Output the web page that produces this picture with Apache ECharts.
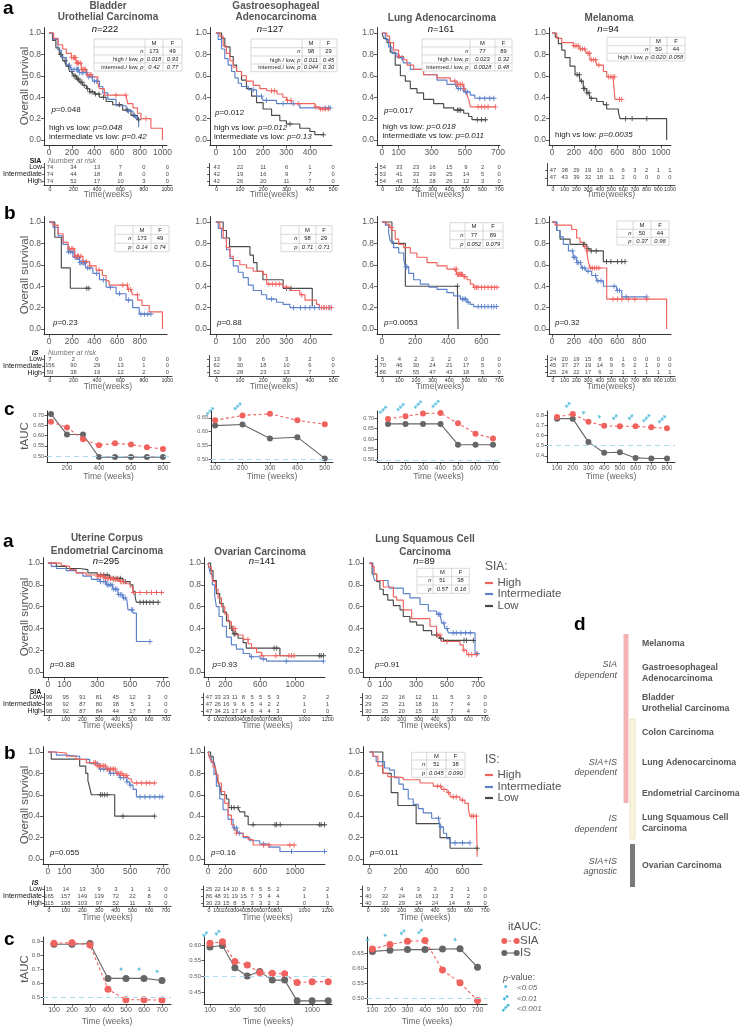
<!DOCTYPE html>
<html>
<head>
<meta charset="utf-8">
<title>SIA / IS survival</title>
<script src="https://cdn.jsdelivr.net/npm/echarts@6.0.0/dist/echarts.min.js"></script>
<style>html,body{margin:0;padding:0;background:#fff;}#chart{width:743px;height:1027px;}</style>
</head>
<body>
<div id="chart"></div>
<script>
/* ================= DATA ================= */
/* Kaplan-Meier curves: [time(weeks), survival after drop]; censor times separately */
// --- top, panel a (SIA) ---
const blcaSiaHigh=[[40,0.95],[79,0.89],[120,0.85],[152,0.81],[196,0.77],[240,0.72],[284,0.66],[333,0.61],[380,0.59],[430,0.53],[444,0.48],[488,0.42],[693,0.34],[740,0.3],[780,0.25],[810,0.2],[898,0.11],[1000,0]];
const blcaSiaHighC=[200,215,225,235,245,250,260,275,290,300,310,320,340,360,370,590,678,854];
const blcaSiaInt=[[35,0.94],[79,0.84],[108,0.77],[152,0.7],[196,0.66],[269,0.63],[342,0.59],[386,0.55],[444,0.5],[474,0.44],[518,0.38],[591,0.32],[680,0.27],[740,0.22],[770,0.2],[790,0.12]];
const blcaSiaIntC=[180,200,220,240,250,260,270,290,300,330,350,380,400,420,700,760];
const blcaSiaLow=[[30,0.93],[60,0.86],[90,0.8],[120,0.74],[150,0.69],[181,0.64],[215,0.6],[240,0.57],[270,0.54],[298,0.51],[330,0.48],[357,0.45],[400,0.43],[444,0.4],[503,0.36],[561,0.33],[649,0.28],[722,0.23],[780,0.19]];
const blcaSiaLowC=[100,140,170,200,220,230,250,260,280,290,310,340,360,380,410,440,480,620,690,750,790];

const stadSiaHigh=[[17,0.97],[31,0.88],[45,0.81],[60,0.74],[74,0.68],[88,0.64],[109,0.6],[130,0.55],[159,0.51],[187,0.48],[216,0.46],[260,0.43],[285,0.4],[300,0.37],[322,0.34],[421,0.31],[440,0.29]];
const stadSiaHighC=[237,250,305,320,350,425,445,455,465,478];
const stadSiaInt=[[10,0.94],[24,0.85],[38,0.76],[52,0.7],[67,0.64],[81,0.58],[95,0.53],[109,0.5],[138,0.47],[173,0.41],[201,0.37],[258,0.34],[357,0.3]];
const stadSiaIntC=[159,194,215,286,329,465,480,486];
const stadSiaLow=[[24,0.95],[38,0.87],[60,0.78],[74,0.7],[88,0.64],[109,0.56],[130,0.48],[152,0.41],[173,0.35],[201,0.29],[237,0.23],[272,0.18],[300,0.15],[357,0.11],[400,0.08],[421,0.05]];
const stadSiaLowC=[315,457];

const luadSiaHigh=[[30,0.97],[46,0.91],[70,0.84],[100,0.78],[131,0.75],[151,0.7],[191,0.66],[251,0.61],[332,0.58],[412,0.55],[453,0.52],[493,0.48],[505,0.45],[513,0.42],[523,0.38],[533,0.31]];
const luadSiaHighC=[105,440,455,465,475,485,495,580,600,620,640,684];
const luadSiaInt=[[20,0.94],[40,0.87],[60,0.81],[91,0.77],[131,0.72],[171,0.66],[251,0.61],[332,0.56],[392,0.52],[453,0.48],[493,0.45],[533,0.42],[560,0.39]];
const luadSiaIntC=[120,445,460,475,490,505,515,590,620,650,675];
const luadSiaLow=[[10,0.95],[30,0.91],[50,0.82],[80,0.7],[111,0.6],[141,0.55],[171,0.48],[211,0.44],[251,0.38],[312,0.34],[372,0.3],[433,0.28],[493,0.25],[523,0.22],[543,0.19]];
const luadSiaLowC=[455,465,475,575,600,624];

const skcmSiaHigh=[[43,0.95],[89,0.91],[196,0.88],[257,0.85],[318,0.81],[349,0.75],[410,0.7],[471,0.64],[502,0.59],[578,0.38]];
const skcmSiaHighC=[200,220,240,260,280,300,330,345,360,380,400,430,520,540,560,575,620,640];
const skcmSiaLow=[[30,0.96],[58,0.9],[89,0.84],[119,0.77],[165,0.69],[211,0.61],[257,0.55],[287,0.48],[318,0.44],[349,0.39],[410,0.36],[471,0.33],[502,0.29],[609,0.26],[624,0.2],[1052,0]];
const skcmSiaLowC=[230,250,270,290,300,320,340,360,500,675,735,870];

// --- top, panel b (IS) ---
const blcaIsHigh=[[35,0.97],[79,0.89],[123,0.81],[167,0.75],[225,0.68],[298,0.63],[357,0.59],[415,0.55],[470,0.5],[503,0.45],[530,0.41],[693,0.37],[737,0.32],[781,0.27],[820,0.22],[883,0.16],[1000,0]];
const blcaIsHighC=[180,200,210,230,250,260,280,300,330,360,440,650,690,700,720,780];
const blcaIsInt=[[35,0.95],[79,0.87],[123,0.79],[167,0.72],[211,0.67],[269,0.62],[327,0.57],[386,0.52],[444,0.46],[503,0.39],[591,0.33],[678,0.27],[737,0.2],[795,0.14]];
const blcaIsIntC=[170,190,210,230,240,250,260,270,280,290,300,310,320,340,360,420,480,540,620,700,810,840,870,898];
const blcaIsLow=[[50,0.857],[108,0.571],[187,0.381]];
const blcaIsLowC=[333,350];

const stadIsHigh=[[17,0.94],[31,0.85],[45,0.76],[60,0.68],[74,0.64],[102,0.6],[130,0.57],[159,0.54],[201,0.51],[216,0.42],[286,0.39],[315,0.36],[357,0.32],[379,0.27],[428,0.23],[440,0.2]];
const stadIsHighC=[225,240,255,270,300,365,450,460,470,480,492];
const stadIsInt=[[10,0.94],[24,0.85],[45,0.74],[60,0.66],[74,0.59],[95,0.53],[116,0.48],[138,0.41],[159,0.36],[194,0.32],[216,0.28],[258,0.25],[286,0.23],[315,0.2]];
const stadIsIntC=[237,330,360,380,400,420,440,460,485];
const stadIsLow=[[31,0.92],[45,0.85],[58,0.77],[145,0.69],[160,0.62],[175,0.54],[200,0.46],[286,0.38],[410,0.21]];
const stadIsLowC=[300,320];

const luadIsHigh=[[25,0.98],[45,0.95],[60,0.92],[80,0.84],[101,0.79],[131,0.76],[171,0.71],[211,0.67],[272,0.62],[332,0.59],[392,0.56],[453,0.51],[490,0.49],[513,0.46],[533,0.42],[553,0.39]];
const luadIsHighC=[55,440,450,455,460,465,470,475,480,485,495,500,560,570,580,600,620,640,660,680,694];
const luadIsInt=[[20,0.97],[40,0.9],[50,0.82],[70,0.76],[101,0.71],[131,0.65],[141,0.58],[161,0.52],[191,0.46],[231,0.42],[282,0.39],[332,0.37],[392,0.34],[433,0.31],[473,0.28],[513,0.25],[533,0.23],[553,0.21]];
const luadIsIntC=[145,150,485,495,505,520,580,600,620,640,660,675,690];
const luadIsLow=[[60,0.8],[141,0.4],[459,0]];
const luadIsLowC=[455];

const skcmIsHigh=[[28,0.97],[180,0.93],[226,0.85],[257,0.81],[287,0.77],[318,0.73],[333,0.63],[349,0.57],[502,0.28],[1052,0]];
const skcmIsHighC=[300,325,355,370,390,410,430,560,600,640,700,760,870];
const skcmIsInt=[[43,0.92],[73,0.86],[104,0.79],[150,0.73],[196,0.67],[226,0.62],[272,0.57],[318,0.54],[364,0.5],[410,0.45],[471,0.4],[593,0.36],[640,0.3]];
const skcmIsIntC=[190,200,210,230,240,260,280,300,330,400,420,450,570,600,620,680,870];
const skcmIsLow=[[43,0.92],[73,0.84],[165,0.79],[318,0.75],[349,0.73],[471,0.63]];
const skcmIsLowC=[290,300,330,360,405,500,540,600,640,670];

// --- bottom, panel a (SIA) ---
const ucecSiaHigh=[[81,0.98],[91,0.97],[132,0.94],[172,0.91],[233,0.89],[300,0.88],[350,0.86],[400,0.85],[440,0.83],[477,0.81],[500,0.78],[517,0.73]];
const ucecSiaHighC=[300,310,320,330,340,350,360,370,380,390,400,410,420,430,440,450,460,520,560,600,630,660,690];
const ucecSiaInt=[[20,0.97],[51,0.95],[112,0.93],[172,0.91],[213,0.88],[264,0.85],[314,0.83],[355,0.8],[396,0.76],[426,0.71],[456,0.68],[480,0.66],[487,0.57],[520,0.54],[538,0.28]];
const ucecSiaIntC=[300,320,340,350,360,370,380,390,400,410,420,430,440,450,460,470,510,515,620];
const ucecSiaLow=[[51,0.97],[112,0.95],[193,0.94],[243,0.91],[300,0.89],[375,0.86],[456,0.83],[500,0.8],[517,0.74],[530,0.69],[538,0.64]];
const ucecSiaLowC=[320,340,360,380,400,420,440,460,470,560,580,600,620,640,670];

const ovSiaHigh=[[15,0.96],[38,0.91],[58,0.83],[88,0.76],[115,0.68],[154,0.6],[192,0.53],[231,0.46],[269,0.4],[327,0.34],[404,0.3],[462,0.26],[500,0.22],[558,0.18],[615,0.15]];
const ovSiaHighC=[290,310,460,620,780,930,960,990];
const ovSiaInt=[[15,0.94],[27,0.9],[50,0.8],[77,0.7],[96,0.6],[127,0.51],[165,0.42],[212,0.32],[269,0.25],[327,0.21],[404,0.17],[480,0.14],[600,0.12],[673,0.1]];
const ovSiaIntC=[500,640,900,1327];
const ovSiaLow=[[31,0.93],[58,0.84],[96,0.72],[135,0.63],[173,0.55],[212,0.47],[250,0.4],[288,0.35],[346,0.31],[404,0.27],[440,0.22],[827,0.15]];
const ovSiaLowC=[270,285,300,310,760,790,1280,1300,1327];

const luscSiaHigh=[[15,0.97],[30,0.9],[46,0.84],[89,0.78],[154,0.69],[175,0.66],[218,0.57],[272,0.49],[390,0.42],[433,0.34],[466,0.28],[584,0.25],[605,0.2],[627,0.16]];
const luscSiaHighC=[440,455,500,610,640,660,690];
const luscSiaInt=[[22,0.9],[32,0.84],[120,0.8],[129,0.77],[218,0.72],[261,0.68],[326,0.62],[380,0.56],[433,0.53],[466,0.45],[487,0.4],[509,0.36],[681,0.17]];
const luscSiaIntC=[445,455,480,500,540,560,590,620,650,695];
const luscSiaLow=[[17,0.9],[46,0.83],[67,0.76],[89,0.71],[118,0.66],[154,0.61],[197,0.57],[218,0.51],[261,0.46],[304,0.43],[347,0.38],[401,0.34],[450,0.31],[477,0.29]];
const luscSiaLowC=[433,460,610,625,670];

// --- bottom, panel b (IS) ---
const ucecIsHigh=[[41,0.99],[112,0.96],[172,0.93],[233,0.9],[294,0.87],[355,0.84],[416,0.8],[460,0.78],[490,0.75],[507,0.73],[517,0.71]];
const ucecIsHighC=[280,290,300,310,320,330,340,350,360,370,380,390,400,410,420,430,440,450,460,470,480,540,570,600,620,649];
const ucecIsInt=[[51,0.97],[112,0.96],[193,0.93],[254,0.89],[314,0.84],[375,0.8],[436,0.76],[480,0.72],[497,0.69],[517,0.65],[538,0.58]];
const ucecIsIntC=[300,320,340,360,380,400,420,440,460,480,500,560,590,620,650,680,695];
const ucecIsLow=[[20,0.933],[193,0.867],[230,0.8],[243,0.733],[254,0.667],[264,0.6],[406,0.4]];
const ucecIsLowC=[320,330,345,360,456,649];

const ovIsHigh=[[15,0.96],[35,0.91],[58,0.86],[88,0.79],[115,0.71],[154,0.63],[192,0.52],[231,0.41],[269,0.32],[300,0.27],[327,0.24],[404,0.21],[462,0.18],[519,0.13]];
const ovIsHighC=[330,640,700,940,990];
const ovIsInt=[[15,0.95],[38,0.9],[69,0.79],[96,0.68],[135,0.56],[173,0.46],[231,0.37],[288,0.29],[346,0.24],[404,0.2],[481,0.17],[596,0.14],[700,0.11],[827,0.07]];
const ovIsIntC=[300,330,360,640,960,1340];
const ovIsLow=[[30,0.96],[60,0.92],[77,0.88],[96,0.8],[115,0.72],[135,0.68],[154,0.6],[212,0.56],[240,0.48],[365,0.44],[423,0.4],[462,0.32]];
const ovIsLowC=[270,300,346,519,770,790,830,1280,1300,1340];

const luscIsHigh=[[22,0.96],[54,0.87],[86,0.8],[118,0.77],[150,0.76],[218,0.74],[326,0.71],[412,0.68],[466,0.65],[500,0.62],[520,0.58],[584,0.55],[616,0.52],[638,0.47],[648,0.4],[695,0.02]];
const luscIsHighC=[440,460,480,510,540,560,600,660,670,690];
const luscIsInt=[[22,0.96],[43,0.91],[97,0.85],[129,0.83],[161,0.76],[190,0.7],[218,0.65],[250,0.56],[282,0.51],[315,0.47],[347,0.43],[401,0.38],[455,0.3],[477,0.24],[498,0.19],[520,0.15]];
const luscIsIntC=[445,460,552,600,648];
const luscIsLow=[[86,0.8],[140,0.62],[183,0.5],[301,0.33],[455,0.2],[520,0.1]];
const luscIsLowC=[695];

/* Number at risk */
const timesBlca=[0,200,400,600,800,1000];
const timesStad=[0,100,200,300,400,500];
const timesLuad=[0,100,200,300,400,500,600,700];
const timesSkcm=[0,100,200,300,400,500,600,700,800,900,1000];
const timesUcec=[0,100,200,300,400,500,600,700];
const timesOv=[0,100,200,300,400,500,600,700,800,1000,1200];
const timesLusc=[0,100,200,300,400,500,600,700];

const riskBlcaSiaLow=[74,34,13,7,0,0], riskBlcaSiaInt=[74,44,18,8,0,0], riskBlcaSiaHigh=[74,52,17,10,3,0];
const riskStadSiaLow=[43,22,11,6,1,0], riskStadSiaInt=[42,19,16,9,7,0], riskStadSiaHigh=[42,26,20,11,7,0];
const riskLuadSiaLow=[54,33,23,16,15,9,2,0], riskLuadSiaInt=[53,41,33,29,25,14,5,0], riskLuadSiaHigh=[54,43,31,28,26,12,3,0];
const riskSkcmSiaLow=[47,38,29,19,10,6,6,3,2,1,1], riskSkcmSiaHigh=[47,43,39,32,18,11,2,0,0,0,0];
const riskBlcaIsLow=[7,2,0,0,0,0], riskBlcaIsInt=[156,90,29,13,1,0], riskBlcaIsHigh=[59,38,19,12,2,0];
const riskStadIsLow=[13,9,6,3,2,0], riskStadIsInt=[62,30,18,10,6,0], riskStadIsHigh=[52,28,23,13,7,0];
const riskLuadIsLow=[5,4,2,2,2,0,0,0], riskLuadIsInt=[70,46,30,24,21,17,5,0], riskLuadIsHigh=[86,67,55,47,43,18,5,0];
const riskSkcmIsLow=[24,20,19,15,8,6,1,0,0,0,0], riskSkcmIsInt=[45,37,27,19,14,9,6,2,1,0,0], riskSkcmIsHigh=[25,24,22,17,6,2,1,1,1,1,1];
const riskUcecSiaLow=[99,95,91,81,45,12,3,0], riskUcecSiaInt=[98,92,87,80,38,5,1,0], riskUcecSiaHigh=[98,92,87,84,44,17,8,0];
const riskOvSiaLow=[47,33,23,11,8,5,5,5,3,2,2], riskOvSiaInt=[47,26,16,9,6,5,4,2,2,1,1], riskOvSiaHigh=[47,34,21,17,14,6,4,4,3,0,0];
const riskLuscSiaLow=[30,22,16,12,11,5,3,0], riskLuscSiaInt=[29,25,21,18,16,7,4,0], riskLuscSiaHigh=[30,25,20,15,13,7,4,0];
const riskUcecIsLow=[15,14,13,9,3,1,1,0], riskUcecIsInt=[165,157,149,139,72,22,8,0], riskUcecIsHigh=[115,108,103,97,52,11,3,0];
const riskOvIsLow=[25,22,14,10,8,6,5,5,2,2,2], riskOvIsInt=[86,48,31,19,15,7,5,4,4,1,1], riskOvIsHigh=[30,23,15,8,5,3,3,2,2,0,0];
const riskLuscIsLow=[9,7,4,3,3,2,1,0], riskLuscIsInt=[40,32,24,18,13,3,2,0], riskLuscIsHigh=[40,33,29,24,24,14,8,0];

/* time-dependent AUC */
const taucTimesBlca=[100,200,300,400,500,600,700,800];
const taucBlcaSia=[0.667,0.640,0.582,0.553,0.562,0.556,0.543,0.535];
const taucBlcaIs=[0.705,0.605,0.605,0.495,0.495,0.495,0.495,0.495];
const taucTimesStad=[100,200,300,400,500];
const taucStadSia=[0.641,0.659,0.665,0.641,0.627];
const taucStadIs=[0.622,0.626,0.575,0.580,0.503];
const taucTimesLuad=[100,200,300,400,500,600,700];
const taucLuadSia=[0.697,0.710,0.723,0.725,0.676,0.626,0.603];
const taucLuadIs=[0.673,0.673,0.673,0.673,0.573,0.573,0.573];
const taucTimesSkcm=[100,200,300,400,500,600,700,800];
const taucSkcmSia=[0.780,0.810,0.735,0.695,0.690,0.690,0.680,0.670];
const taucSkcmIs=[0.765,0.765,0.535,0.430,0.435,0.380,0.375,0.375];
const taucTimesUcec=[100,200,300,400,500,600,700];
const taucUcecSia=[0.885,0.888,0.872,0.555,0.480,0.480,0.478];
const taucUcecIs=[0.877,0.877,0.882,0.633,0.633,0.633,0.618];
const taucTimesOv=[100,200,300,400,500,600,700,800,1000,1200];
const taucOvSia=[0.605,0.610,0.547,0.536,0.512,0.510,0.508,0.480,0.483,0.483];
const taucOvIs=[0.593,0.598,0.527,0.501,0.515,0.488,0.488,0.422,0.422,0.422];
const taucTimesLusc=[100,200,300,400,500,600,700];
const taucLuscSia=[0.663,0.678,0.689,0.691,0.593,0.551,0.492];
const taucLuscIs=[0.655,0.659,0.661,0.661,0.663,0.664,0.602];
/* significance stars: [time, number of stars] */
const starsBlca=[];
const starsStad=[[100,3],[200,3]];
const starsLuad=[[100,3],[200,3],[300,3],[400,3]];
const starsSkcm=[[200,2],[300,1],[400,1],[500,2],[600,2],[700,3],[800,3]];
const starsUcec=[[500,1],[600,1],[700,1]];
const starsOv=[[100,2],[200,2]];
const starsLusc=[[100,1],[200,1],[300,2],[400,2],[600,1]];

/* sex-stratified statistics tables */
const statBlcaSia=[['n','173','49'],['high / low, p','0.018','0.93'],['intermed./ low, p','0.42','0.77']];
const statStadSia=[['n','98','29'],['high / low, p','0.011','0.45'],['intermed./ low, p','0.044','0.30']];
const statLuadSia=[['n','77','89'],['high / low, p','0.023','0.32'],['intermed./ low, p','0.0028','0.48']];
const statSkcmSia=[['n','50','44'],['high / low, p','0.020','0.058']];
const statBlcaIs=[['n','173','49'],['p','0.14','0.74']];
const statStadIs=[['n','98','29'],['p','0.71','0.71']];
const statLuadIs=[['n','77','89'],['p','0.052','0.079']];
const statSkcmIs=[['n','50','44'],['p','0.37','0.96']];
const statLuscSia=[['n','51','38'],['p','0.57','0.16']];
const statLuscIs=[['n','51','38'],['p','0.045','0.090']];

/* panel d */
const dCancers=[['Melanoma'],['Gastroesophageal','Adenocarcinoma'],['Bladder','Urothelial Carcinoma'],['Colon Carcinoma'],['Lung Adenocarcinoma'],['Endometrial Carcinoma'],['Lung Squamous Cell','Carcinoma'],['Ovarian Carcinoma']];
const dGroups=[['SIA','dependent'],['SIA+IS','dependent'],['IS','dependent'],['SIA+IS','agnostic']];

/* ================= BUILD ================= */
const FONT="'Liberation Sans', Arial, Helvetica, sans-serif";
const C_RED='#F0625E', C_BLUE='#5B80CC', C_GRAY='#4B4B4B', C_TG='#666666', C_STAR='#2AADD3';
const AXC='#333333', LABC='#595959';
const PLUS='path://M0,4.15H10V5.85H0Z M4.15,0H5.85V10H4.15Z';
const grids=[], xAxes=[], yAxes=[], series=[], graphics=[];

function addGrid(b,xa,ya){const gi=grids.length;grids.push({left:b[0],top:b[1],width:b[2],height:b[3],containLabel:false});xAxes.push(Object.assign({gridIndex:gi},xa));yAxes.push(Object.assign({gridIndex:gi},ya));return gi;}
function axis(min,max,ticks,o){o=o||{};return {type:'value',min:min,max:max,
  axisLine:{show:true,onZero:false,lineStyle:{color:AXC,width:o.lw||1}},
  axisTick:{show:true,inside:false,length:o.tl||3,customValues:ticks,lineStyle:{color:AXC,width:0.8}},
  axisLabel:{show:o.showLabel!==false,customValues:ticks,fontSize:o.fs||8.5,color:o.color||LABC,fontFamily:FONT,margin:o.margin||3,hideOverlap:false,formatter:o.fmt||function(v){return String(v);}},
  splitLine:{show:false},splitArea:{show:false}};}
function pw(br){return function(t){for(let i=1;i<br.length;i++){if(t<=br[i][0]){const a=br[i-1],b=br[i];return a[1]+(t-a[0])/(b[0]-a[0])*(b[1]-a[1]);}}return br[br.length-1][1];};}

function stepAt(d,t){let s=1;for(let i=0;i<d.length;i++){if(d[i][0]<=t)s=d[i][1];else break;}return s;}
function kmCurve(gi,drops,cens,color){
  const pts=[{t:0,s:1,c:0}];
  drops.forEach(d=>pts.push({t:d[0],s:d[1],c:0}));
  cens.forEach(t=>pts.push({t:t,s:stepAt(drops,t),c:1}));
  pts.sort((a,b)=>(a.t-b.t)||(a.c-b.c));
  series.push({type:'line',xAxisIndex:gi,yAxisIndex:gi,step:'end',silent:true,animation:false,symbol:PLUS,symbolSize:5.2,showSymbol:true,showAllSymbol:true,z:3,
    lineStyle:{color:color,width:1.15},itemStyle:{color:color},
    data:pts.map(p=>p.c?{value:[p.t,p.s]}:{value:[p.t,p.s],symbol:'none'})});
}
function kmPanel(b,xr,ticks,curves){
  const gi=addGrid(b,axis(xr[0],xr[1],ticks),axis(-0.05,1.05,[0,0.2,0.4,0.6,0.8,1],{fmt:v=>v.toFixed(1)}));
  curves.forEach(c=>kmCurve(gi,c[0],c[1],c[2]));
}
function riskPanel(b,xr,times,rows,names,pos){
  pos=pos||(v=>v);
  const tp=times.map(pos), lab={}; tp.forEach((p,i)=>{lab[p]=times[i];});
  const ys=rows.map(r=>r[1]), yn={}; rows.forEach(r=>{yn[r[1]]=r[2];});
  const gi=addGrid(b,axis(xr[0],xr[1],tp,{fs:5.3,tl:2,margin:2,lw:0.9,color:'#333',fmt:v=>String(lab[v]!==undefined?lab[v]:'')}),
    axis(-0.5,2.5,ys,{fs:7,tl:2,margin:2,lw:0.9,color:'#111',showLabel:!!names,fmt:v=>yn[v]||''}));
  const data=[]; rows.forEach(r=>r[0].forEach((v,i)=>data.push([tp[i],r[1],v])));
  series.push({type:'scatter',xAxisIndex:gi,yAxisIndex:gi,silent:true,animation:false,symbolSize:1,itemStyle:{color:'rgba(0,0,0,0)'},
    label:{show:true,position:'inside',formatter:p=>String(p.value[2]),fontSize:5.8,color:'#111',fontFamily:FONT},data:data});
}
function taucPanel(b,xr,xTickTimes,yr,yt,ydec,times,sia,is,stars,pos,fs){
  pos=pos||(v=>v);
  const tp=xTickTimes.map(pos), lab={}; tp.forEach((p,i)=>{lab[p]=xTickTimes[i];});
  const gi=addGrid(b,axis(xr[0],xr[1],tp,{fs:fs[0],tl:2.5,fmt:v=>String(lab[v]!==undefined?lab[v]:'')}),
    axis(yr[0],yr[1],yt,{fs:fs[1],tl:2.5,fmt:v=>v.toFixed(ydec)}));
  series.push({type:'line',xAxisIndex:gi,yAxisIndex:gi,silent:true,animation:false,z:3,symbol:'circle',symbolSize:fs[2],
    lineStyle:{color:C_TG,width:1.1},itemStyle:{color:C_TG},data:times.map((t,i)=>[pos(t),is[i]]),
    markLine:{silent:true,symbol:'none',animation:false,label:{show:false},lineStyle:{color:'#A9DCEE',type:[5,4],width:1},data:[{yAxis:0.5}]}});
  series.push({type:'line',xAxisIndex:gi,yAxisIndex:gi,silent:true,animation:false,z:4,symbol:'circle',symbolSize:fs[2],
    lineStyle:{color:C_RED,width:1.1,type:[3,2.5]},itemStyle:{color:C_RED},data:times.map((t,i)=>[pos(t),sia[i]])});
  const sd=stars.map(s=>{const i=times.indexOf(s[0]);return [pos(s[0]),Math.max(sia[i],is[i]),s[1]];});
  series.push({type:'scatter',xAxisIndex:gi,yAxisIndex:gi,silent:true,animation:false,z:5,symbolSize:1,itemStyle:{color:'rgba(0,0,0,0)'},
    label:{show:true,position:'inside',offset:[3,-8],rotate:45,formatter:p=>'*'.repeat(p.value[2]),fontSize:9,fontWeight:'bold',color:C_STAR,fontFamily:FONT},data:sd});
}

/* graphic helpers */
function T(x,y,text,o){
  o=o||{};
  const size=o.size||8, col=o.color||'#222', w=o.weight||'normal', al=o.align||'left', va=o.valign||'middle';
  const st={text:text,x:0,y:0,fill:col,fontSize:size,fontFamily:FONT,fontWeight:w,fontStyle:o.style||'normal',align:al,verticalAlign:va,textAlign:al,textVerticalAlign:va};
  if(text.indexOf('{')>=0){st.rich={i:{fontStyle:'italic',fontSize:size,fontFamily:FONT,fontWeight:w,fill:col,color:col}};}
  graphics.push({type:'text',x:x,y:y,rotation:o.rot||0,silent:true,z:100,style:st});
}
function L(x1,y1,x2,y2,col,lw,dash){graphics.push({type:'line',silent:true,z:60,shape:{x1:x1,y1:y1,x2:x2,y2:y2},style:{stroke:col,lineWidth:lw,lineDash:dash||null}});}
function R(x,y,w,h,fill,stroke,z){graphics.push({type:'rect',silent:true,z:z||50,shape:{x:x,y:y,width:w,height:h},style:{fill:fill,stroke:stroke||null,lineWidth:stroke?0.7:0}});}
function Circ(cx,cy,r,col){graphics.push({type:'circle',silent:true,z:61,shape:{cx:cx,cy:cy,r:r},style:{fill:col}});}
function statTable(xs,ys,rows){
  const x0=xs[0],x1=xs[xs.length-1],y0=ys[0],y1=ys[ys.length-1],lc='#C8C8C8';
  R(x0,y0,x1-x0,y1-y0,'#fff',lc,50);
  for(let i=1;i<ys.length-1;i++)L(x0,ys[i],x1,ys[i],lc,0.7);
  for(let j=1;j<xs.length-1;j++)L(xs[j],y0,xs[j],y1,lc,0.7);
  const cy0=(ys[0]+ys[1])/2;
  T((xs[1]+xs[2])/2,cy0,'M',{size:5.8,align:'center'}); T((xs[2]+xs[3])/2,cy0,'F',{size:5.8,align:'center'});
  rows.forEach((r,k)=>{
    const cy=(ys[k+1]+ys[k+2])/2, isN=r[0]==='n';
    const lbl=isN?'{i|n}':r[0].replace(/p$/,'{i|p}');
    T(xs[1]-1.5,cy,lbl,{size:5.8,align:'right'});
    T((xs[1]+xs[2])/2,cy,isN?r[1]:'{i|'+r[1]+'}',{size:5.8,align:'center'});
    T((xs[2]+xs[3])/2,cy,isN?r[2]:'{i|'+r[2]+'}',{size:5.8,align:'center'});
  });
}

/* ---- KM panels ---- */
const TA=27.6,TB=216.6,BA=557.6,BB=746.6;
kmPanel([44,TA,123,117.8],[-45,1040],[0,200,400,600,800,1000],[[blcaSiaLow,blcaSiaLowC,C_GRAY],[blcaSiaInt,blcaSiaIntC,C_BLUE],[blcaSiaHigh,blcaSiaHighC,C_RED]]);
kmPanel([210,TA,122,117.8],[-25,494],[0,100,200,300,400],[[stadSiaLow,stadSiaLowC,C_GRAY],[stadSiaInt,stadSiaIntC,C_BLUE],[stadSiaHigh,stadSiaHighC,C_RED]]);
kmPanel([377,TA,123,117.8],[-30,712],[0,100,300,500,700],[[luadSiaLow,luadSiaLowC,C_GRAY],[luadSiaInt,luadSiaIntC,C_BLUE],[luadSiaHigh,luadSiaHighC,C_RED]]);
kmPanel([549,TA,122,117.8],[-28,1092],[0,200,400,600,800,1000],[[skcmSiaLow,skcmSiaLowC,C_GRAY],[skcmSiaHigh,skcmSiaHighC,C_RED]]);
kmPanel([44,TB,123,117.8],[-45,1040],[0,200,400,600,800],[[blcaIsLow,blcaIsLowC,C_GRAY],[blcaIsInt,blcaIsIntC,C_BLUE],[blcaIsHigh,blcaIsHighC,C_RED]]);
kmPanel([210,TB,122,117.8],[-25,494],[0,100,200,300,400],[[stadIsLow,stadIsLowC,C_GRAY],[stadIsInt,stadIsIntC,C_BLUE],[stadIsHigh,stadIsHighC,C_RED]]);
kmPanel([377,TB,123,117.8],[-30,712],[0,200,400,600],[[luadIsLow,luadIsLowC,C_GRAY],[luadIsInt,luadIsIntC,C_BLUE],[luadIsHigh,luadIsHighC,C_RED]]);
kmPanel([549,TB,122,117.8],[-28,1092],[0,200,400,600,800],[[skcmIsLow,skcmIsLowC,C_GRAY],[skcmIsInt,skcmIsIntC,C_BLUE],[skcmIsHigh,skcmIsHighC,C_RED]]);
kmPanel([43,BA,125,119.9],[-30,730],[0,100,300,500,700],[[ucecSiaLow,ucecSiaLowC,C_GRAY],[ucecSiaInt,ucecSiaIntC,C_BLUE],[ucecSiaHigh,ucecSiaHighC,C_RED]]);
kmPanel([204,BA,121,119.9],[-46,1345],[0,200,600,1000],[[ovSiaLow,ovSiaLowC,C_GRAY],[ovSiaInt,ovSiaIntC,C_BLUE],[ovSiaHigh,ovSiaHighC,C_RED]]);
kmPanel([363,BA,119,119.9],[-42,726],[0,100,300,500,700],[[luscSiaLow,luscSiaLowC,C_GRAY],[luscSiaInt,luscSiaIntC,C_BLUE],[luscSiaHigh,luscSiaHighC,C_RED]]);
kmPanel([43,BB,125,117.7],[-30,730],[0,100,300,500,700],[[ucecIsLow,ucecIsLowC,C_GRAY],[ucecIsInt,ucecIsIntC,C_BLUE],[ucecIsHigh,ucecIsHighC,C_RED]]);
kmPanel([204,BB,121,117.7],[-46,1345],[0,200,600,1000],[[ovIsLow,ovIsLowC,C_GRAY],[ovIsInt,ovIsIntC,C_BLUE],[ovIsHigh,ovIsHighC,C_RED]]);
kmPanel([363,BB,119,117.7],[-42,726],[0,200,400,600],[[luscIsLow,luscIsLowC,C_GRAY],[luscIsInt,luscIsIntC,C_BLUE],[luscIsHigh,luscIsHighC,C_RED]]);

/* ---- risk tables ---- */
const ovRiskPos=pw([[0,0],[800,8],[1000,11.1],[1200,13.8]]);
function rows3(lo,it,hi){return [[lo,2,'Low'],[it,1,'Intermediate'],[hi,0,'High']];}
riskPanel([44,163.5,128,21.5],[-51,1040],timesBlca,rows3(riskBlcaSiaLow,riskBlcaSiaInt,riskBlcaSiaHigh),true);
riskPanel([209,163.5,130,21.5],[-33,525],timesStad,rows3(riskStadSiaLow,riskStadSiaInt,riskStadSiaHigh),false);
riskPanel([377,163.5,126,21.5],[-34,723],timesLuad,rows3(riskLuadSiaLow,riskLuadSiaInt,riskLuadSiaHigh),false);
riskPanel([547,163.5,128,21.5],[-51,1043],timesSkcm,[[riskSkcmSiaLow,1.5,'Low'],[riskSkcmSiaHigh,0.5,'High']],false);
riskPanel([44,355.5,128,20.5],[-51,1040],timesBlca,rows3(riskBlcaIsLow,riskBlcaIsInt,riskBlcaIsHigh),true);
riskPanel([209,355.5,130,20.5],[-33,525],timesStad,rows3(riskStadIsLow,riskStadIsInt,riskStadIsHigh),false);
riskPanel([377,355.5,126,20.5],[-34,723],timesLuad,rows3(riskLuadIsLow,riskLuadIsInt,riskLuadIsHigh),false);
riskPanel([547,355.5,128,20.5],[-51,1043],timesSkcm,rows3(riskSkcmIsLow,riskSkcmIsInt,riskSkcmIsHigh),false);
riskPanel([44,693.5,127,21.5],[-30,731],timesUcec,rows3(riskUcecSiaLow,riskUcecSiaInt,riskUcecSiaHigh),true);
riskPanel([203,693.5,129,21.5],[-0.7,14.3],timesOv,rows3(riskOvSiaLow,riskOvSiaInt,riskOvSiaHigh),false,ovRiskPos);
riskPanel([362,693.5,126,21.5],[-38,717],timesLusc,rows3(riskLuscSiaLow,riskLuscSiaInt,riskLuscSiaHigh),false);
riskPanel([44,886,127,20.5],[-30,731],timesUcec,rows3(riskUcecIsLow,riskUcecIsInt,riskUcecIsHigh),true);
riskPanel([203,886,129,20.5],[-0.7,14.3],timesOv,rows3(riskOvIsLow,riskOvIsInt,riskOvIsHigh),false,ovRiskPos);
riskPanel([362,886,126,20.5],[-38,717],timesLusc,rows3(riskLuscIsLow,riskLuscIsInt,riskLuscIsHigh),false);

/* ---- tAUC panels ---- */
const FT=[6.5,5.5,6], FB=[7,6,7];
taucPanel([47,411,123,51],[75,844],[200,400,600,800],[0.471,0.72],[0.5,0.55,0.6,0.65,0.7],2,taucTimesBlca,taucBlcaSia,taucBlcaIs,starsBlca,null,FT);
taucPanel([211,411,122,51],[85,530],[100,200,300,400,500],[0.49,0.675],[0.5,0.55,0.6,0.65],2,taucTimesStad,taucStadSia,taucStadIs,starsStad,null,FT);
taucPanel([377,411,123,51],[37,740],[100,200,300,400,500,600,700],[0.49,0.735],[0.5,0.55,0.6,0.65,0.7],2,taucTimesLuad,taucLuadSia,taucLuadIs,starsLuad,null,FT);
taucPanel([547,411,128,51],[36,851],[100,200,300,400,500,600,700,800],[0.34,0.84],[0.4,0.5,0.6,0.7,0.8],1,taucTimesSkcm,taucSkcmSia,taucSkcmIs,starsSkcm,null,FT);
taucPanel([43,937,128,67],[39,750],[100,200,300,400,500,600,700],[0.45,0.929],[0.5,0.6,0.7,0.8,0.9],1,taucTimesUcec,taucUcecSia,taucUcecIs,starsUcec,null,FB);
taucPanel([204,937,128,67],[0.52,10.8],[100,300,500,1000],[0.412,0.625],[0.45,0.5,0.55,0.6],2,taucTimesOv,taucOvSia,taucOvIs,starsOv,pw([[100,1],[800,8],[1000,9.2],[1200,10.5]]),FB);
taucPanel([367,937,120,67],[69,754],[100,200,300,400,500,600,700],[0.48,0.703],[0.5,0.55,0.6,0.65],2,taucTimesLusc,taucLuscSia,taucLuscIs,starsLusc,null,FB);

/* ---- texts ---- */
[['a',3,9],['b',4,214],['c',4,410],['a',3,542],['b',4,754],['c',4,940],['d',574,625]].forEach(l=>T(l[1],l[2],l[0],{size:19,weight:'bold',color:'#000'}));
const TT={size:10,weight:'bold',color:'#555',align:'center'}, NN={size:9.5,align:'center',color:'#111'};
T(108,6.5,'Bladder',TT);T(108,17.5,'Urothelial Carcinoma',TT);T(105,29,'{i|n}=222',NN);
T(276,6.5,'Gastroesophageal',TT);T(276,17.5,'Adenocarcinoma',TT);T(270,29,'{i|n}=127',NN);
T(442,18,'Lung Adenocarcinoma',TT);T(441,29,'{i|n}=161',NN);
T(609,18,'Melanoma',TT);T(608,29,'{i|n}=94',NN);
T(107,538,'Uterine Corpus',TT);T(107,551,'Endometrial Carcinoma',TT);T(106,561,'{i|n}=295',NN);
T(260,552,'Ovarian Carcinoma',TT);T(262,561,'{i|n}=141',NN);
T(425,539,'Lung Squamous Cell',TT);T(425,552,'Carcinoma',TT);T(424,561,'{i|n}=89',NN);
const YT={size:11.5,color:'#555',align:'center',rot:Math.PI/2};
[86,275,617,805].forEach(y=>T(25,y,'Overall survival',YT));
[436,969].forEach(y=>T(25,y,'tAUC',YT));
const PS={size:8};
T(51.5,110,'{i|p}=0.048',PS);T(49,128,'high vs low: {i|p=0.048}',PS);T(49,137,'intermediate vs low: {i|p=0.42}',PS);
T(215,113,'{i|p}=0.012',PS);T(214,128,'high vs low: {i|p=0.012}',PS);T(214,137,'intermediate vs low: {i|p=0.13}',PS);
T(384,110.5,'{i|p}=0.017',PS);T(382.5,127,'high vs low: {i|p=0.018}',PS);T(382.5,136,'intermediate vs low: {i|p=0.011}',PS);
T(555,134.5,'high vs low: {i|p=0.0035}',PS);
T(53,323,'{i|p}=0.23',PS);T(217,323,'{i|p}=0.88',PS);T(384,323,'{i|p}=0.0053',PS);T(555,323,'{i|p}=0.32',PS);
T(50,665,'{i|p}=0.88',PS);T(212.5,665,'{i|p}=0.93',PS);T(375,665,'{i|p}=0.91',PS);
T(50,853,'{i|p}=0.055',PS);T(211,853,'{i|p}=0.16',PS);T(370,853,'{i|p}=0.011',PS);
/* risk headers & axis titles */
T(35.5,161,'SIA',{size:7,weight:'bold',align:'center',color:'#111'});T(48,161,'Number at risk',{size:7.4,style:'italic',color:'#777'});
T(35,353,'IS',{size:7,weight:'bold',style:'italic',align:'center',color:'#111'});T(48,353,'Number at risk',{size:7.4,style:'italic',color:'#777'});
T(35.5,692,'SIA',{size:7,weight:'bold',align:'center',color:'#111'});
T(35,883,'IS',{size:7,weight:'bold',style:'italic',align:'center',color:'#111'});
const TW={size:8.5,color:'#666',align:'center'};
[108,274,440,611].forEach(x=>{T(x,195,'Time(weeks)',TW);T(x,387,'Time(weeks)',TW);});
[107.5,267.5,425].forEach(x=>{T(x,726,'Time (weeks)',TW);T(x,918,'Time (weeks)',TW);});
[108.5,272,438.5,611].forEach(x=>T(x,477,'Time (weeks)',TW));
[107,268,427].forEach(x=>T(x,1022,'Time (weeks)',TW));
/* stat tables */
statTable([94,145,163,182],[39,47,55,63,71],statBlcaSia);
statTable([251,302,320,337],[39,47.7,56,64,71.7],statStadSia);
statTable([422,470,495,512],[39,47,55,63,71],statLuadSia);
statTable([607,650,667,685],[37.3,45.7,53.3,61],statSkcmSia);
statTable([115,133,151,169],[225.7,234.3,243.3,251.7],statBlcaIs);
statTable([281,299,316,332],[225.7,234.3,243.3,251.7],statStadIs);
statTable([450,465,483,503],[222.7,231,239.7,248.3],statLuadIs);
statTable([617,633,651,669],[221,229.3,237.3,245],statSkcmIs);
statTable([417,433,451.7,469.3],[568.3,576.7,585,593.3],statLuscSia);
statTable([411.7,426.7,446,465],[752.3,760,769,777.3],statLuscIs);
/* legends */
function groupLegend(x,y0,title,ys){
  T(x,y0,title,{size:12,color:'#555'});
  [[C_RED,'High'],[C_BLUE,'Intermediate'],[C_GRAY,'Low']].forEach((g,i)=>{L(x,ys[i],x+8,ys[i],g[0],2.2);T(x+12.5,ys[i],g[1],{size:11.5,color:'#555'});});
}
groupLegend(485,567,'SIA:',[583,594,606]);
groupLegend(485,760,'IS:',[775,787,798]);
T(508,927,'itAUC:',{size:11.5,color:'#555'});
L(504,941,517,941,C_RED,1.1,[2.5,2]);Circ(504.3,941,3,C_RED);Circ(516.7,941,3,C_RED);T(520,941,'SIA',{size:11.5,color:'#555'});
L(504,953,517,953,C_TG,1.1);Circ(504.3,953,3,C_TG);Circ(516.7,953,3,C_TG);T(520,953,'IS',{size:11.5,color:'#555'});
T(503,978,'{i|p}-value:',{size:9,color:'#555'});
[['*',988,'<0.05'],['**',999,'<0.01'],['***',1009,'<0.001']].forEach(s=>{T(507,s[1],s[0],{size:8.5,weight:'bold',color:C_STAR,align:'center',rot:Math.PI/4});T(517,s[1],s[2],{size:8,style:'italic',color:'#666'});});
/* panel d */
R(623.5,634,5,169,'#F3B3B3',null,50);
R(630,719,5,120,'#FBF4DC','#E3D9B3',50);
R(630,844,5,43,'#7A7A7A',null,50);
const dY=[[644],[668,679],[698,709],[733],[763],[794],[818,829],[866]];
dCancers.forEach((c,i)=>c.forEach((s,k)=>T(642,dY[i][k],s,{size:8.7,weight:'bold',color:'#555'})));
const gY=[[664,675],[762,772],[818,829],[861,871]];
dGroups.forEach((g,i)=>g.forEach((s,k)=>T(617,gY[i][k],s,{size:9,style:'italic',color:'#555',align:'right'})));

const chart=echarts.init(document.getElementById('chart'),null,{renderer:'canvas',width:743,height:1027});
chart.setOption({animation:false,backgroundColor:'#ffffff',grid:grids,xAxis:xAxes,yAxis:yAxes,series:series,graphic:{elements:graphics}});
</script>
</body>
</html>
